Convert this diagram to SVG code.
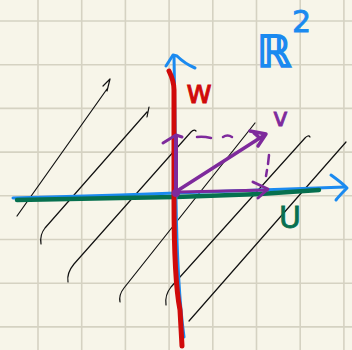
<svg xmlns="http://www.w3.org/2000/svg" width="352" height="350" viewBox="0 0 352 350">
<style>
.grid{stroke:#d5d2c2;stroke-width:1.6;fill:none}
.hatch{stroke:#111;stroke-width:1.2;fill:none;stroke-linecap:round;stroke-linejoin:round}
.red{stroke:#d00a0a;fill:none;stroke-linecap:round;stroke-linejoin:round}
.blue{stroke:#1b8af0;fill:none;stroke-linecap:round;stroke-linejoin:round}
.green{stroke:#06704f;fill:none;stroke-linecap:round;stroke-linejoin:round}
.purple{stroke:#7e2a9c;fill:none;stroke-linecap:round;stroke-linejoin:round}
.lbl{font-family:"DejaVu Sans","Liberation Sans",sans-serif}
</style>
<rect width="352" height="350" fill="#f7f5e9"/>
<g id="grid" class="grid">
<path d="M38,0V350M81.7,0V350M125.4,0V350M169.1,0V350M212.8,0V350M256.5,0V350M300.2,0V350M343.9,0V350"/>
<path d="M0,21H352M0,64.7H352M0,108.4H352M0,152.1H352M0,195.8H352M0,239.5H352M0,283.2H352M0,326.9H352"/>
</g>
<g id="hatch" class="hatch">
<path d="M17,216 L107,89 M103,86 L110,79 L107,91"/>
<path d="M41,244 C40,238 41,233 45,228 L147,112 M149,107 L147,117"/>
<path d="M68,282 C67,276 69,270 74,264 L191,132 C193,130 195,130 196,131"/>
<path d="M120,302 C119,297 120,293 124,288 L255,123"/>
<path d="M166,305 C165,298 167,292 171,287 L305,138 C307,136 309,135 310,137"/>
<path d="M189,321 L346,142"/>
</g>
<g id="axis-U" >
<path class="blue" stroke-width="3" d="M13,198 L120,195 L176,193 L260,190 L345,187"/>
<path class="blue" stroke-width="3" d="M331,175 C338,180 343,184 347,188 C343,192 339,196 336,200"/>
<path class="green" stroke-width="4.5" d="M17,200 L120,198 L176,197 L260,194 L319,190"/>
</g>
<g id="axis-W">
<path class="blue" stroke-width="3" d="M174,56 L175,120 L176,200 C177,260 179,300 184,337"/>
<path class="blue" stroke-width="3" d="M166,66 L173,55 L177,56 C182,61 188,65 195,68"/>
<path class="red" stroke-width="5" d="M169,71 C172,77 174,82 174,90 L174,200 C174,255 176,290 180,310 L182,346"/>
</g>
<g id="vectors">
<path class="purple" stroke-width="4" d="M176,193 L176,136"/>
<path class="purple" stroke-width="3" d="M163,143 L176,135 L182,137"/>
<path class="purple" stroke-width="3.5" d="M177,191 L263,136"/>
<path class="purple" stroke-width="3.5" d="M250,131 L266,134 L258,146 M254,133 L261,139"/>
<path class="purple" stroke-width="3" d="M180,192 L267,190"/>
<path class="purple" stroke-width="3" d="M253,182 L268,189 L258,198"/>
<path class="purple" stroke-width="2.5" d="M197,137 C203,136 207,137 211,138 M223,137 C226,135 229,135 232,137"/>
<path class="purple" stroke-width="2.5" d="M269,155 L268,164 M267,170 L266,176"/>
<circle cx="176" cy="193" r="4" fill="#7e2a9c"/>
</g>
<g id="labels" class="lbl">
<text x="186" y="103" font-size="32" fill="#d00a0a" stroke="#d00a0a" stroke-width="0.8">w</text>
<text x="273" y="126" font-size="25" fill="#7e2a9c" stroke="#7e2a9c" stroke-width="0.8">v</text>
<text x="279" y="228" font-size="30" fill="#06704f" stroke="#06704f" stroke-width="0.8">U</text>
<text x="257" y="67" font-size="44" fill="#1b8af0" stroke="#1b8af0" stroke-width="1.6">ℝ<tspan x="292" y="32" font-size="30" stroke-width="0.8">2</tspan></text>
</g>
</svg>
